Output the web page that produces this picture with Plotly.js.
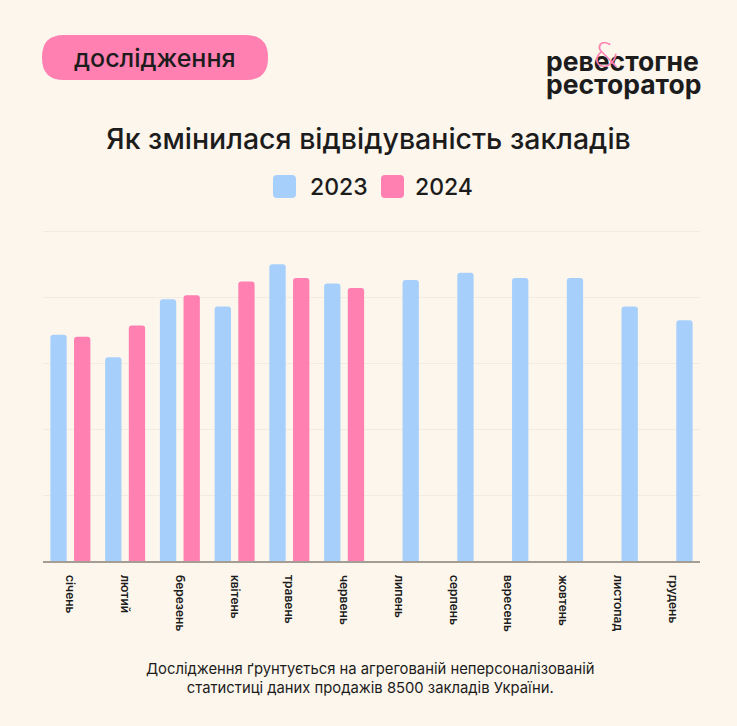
<!DOCTYPE html>
<html>
<head>
<meta charset="utf-8">
<script src="https://cdn.plot.ly/plotly-3.0.1.min.js"></script>
<style>
html,body{margin:0;padding:0;background:#fdf6ec;}
#chart{width:737px;height:726px;}
</style>
</head>
<body>
<div id="chart"></div>
<script>
// ---- data ----
const months = ['січень','лютий','березень','квітень','травень','червень','липень','серпень','вересень','жовтень','листопад','грудень'];
const series2023 = [3.43, 3.09, 3.97, 3.86, 4.50, 4.21, 4.26, 4.37, 4.29, 4.29, 3.86, 3.65];
const series2024 = [3.40, 3.57, 4.03, 4.24, 4.29, 4.14, null, null, null, null, null, null];
const seriesNames = ['2023', '2024'];
const titleText = 'Як змінилася відвідуваність закладів';
const badgeText = 'дослідження';
const logoLines = ['ревестогне', 'ресторатор'];
const footerLines = ['Дослідження ґрунтується на агрегованій неперсоналізованій', 'статистиці даних продажів 8500 закладів України.'];

// ---- style ----
const BLUE = '#a6d0fb', PINK = '#ff80b1', BG = '#fdf6ec', INK = '#1c1c1c';
const W = 737, H = 726;
const L = 43, R = 37, T = 228, B = 165;
const PW = W - L - R, PH = H - T - B;
const px = x => (x - L) / PW;
const py = y => (T + PH - y) / PH;

function roundRect(x0, y0, x1, y1, r) {
  const p = (x, y) => px(x) + ',' + py(y);
  return 'M' + p(x0 + r, y0) + ' L' + p(x1 - r, y0) + ' Q' + p(x1, y0) + ' ' + p(x1, y0 + r) +
    ' L' + p(x1, y1 - r) + ' Q' + p(x1, y1) + ' ' + p(x1 - r, y1) +
    ' L' + p(x0 + r, y1) + ' Q' + p(x0, y1) + ' ' + p(x0, y1 - r) +
    ' L' + p(x0, y0 + r) + ' Q' + p(x0, y0) + ' ' + p(x0 + r, y0) + ' Z';
}

const firstHalf = series2023.map((v, i) => series2024[i] !== null ? v : null);
const secondHalf = series2023.map((v, i) => series2024[i] === null ? v : null);

const traces = [
  {type: 'bar', name: seriesNames[0], x: months, y: firstHalf, offsetgroup: 'a', marker: {color: BLUE}, showlegend: false},
  {type: 'bar', name: seriesNames[0], x: months, y: secondHalf, offsetgroup: 'b', marker: {color: BLUE}, showlegend: false},
  {type: 'bar', name: seriesNames[1], x: months, y: series2024, offsetgroup: 'b', marker: {color: PINK}, showlegend: false}
];

const FONT = 'Inter, "Noto Sans", sans-serif';

const shapes = [
  {type: 'path', xref: 'paper', yref: 'paper', path: roundRect(42, 35, 268, 80, 22), fillcolor: PINK, line: {width: 0}, layer: 'below'},
  {type: 'path', xref: 'paper', yref: 'paper', path: roundRect(273, 175, 296, 198, 4), fillcolor: BLUE, line: {width: 0}},
  {type: 'path', xref: 'paper', yref: 'paper', path: roundRect(381, 175, 404, 198, 4), fillcolor: PINK, line: {width: 0}}
];

const annotations = [
  {xref: 'paper', yref: 'paper', x: px(155), y: py(58), text: badgeText, showarrow: false, xanchor: 'center', yanchor: 'middle',
    font: {family: FONT, size: 25, color: INK, weight: 500}},
  {xref: 'paper', yref: 'paper', x: px(544), y: py(61), text: logoLines[0], showarrow: false, xanchor: 'left', yanchor: 'middle',
    font: {family: FONT, size: 26.5, color: INK, weight: 700}},
  {xref: 'paper', yref: 'paper', x: px(544), y: py(84), text: logoLines[1], showarrow: false, xanchor: 'left', yanchor: 'middle',
    font: {family: FONT, size: 26.5, color: INK, weight: 700}},
  {xref: 'paper', yref: 'paper', x: px(606), y: py(55), text: '&', showarrow: false, xanchor: 'center', yanchor: 'middle',
    font: {family: '"DejaVu Sans", sans-serif', size: 34, color: PINK, weight: 200}},
  {xref: 'paper', yref: 'paper', x: px(308), y: py(187), text: seriesNames[0], showarrow: false, xanchor: 'left', yanchor: 'middle',
    font: {family: FONT, size: 23, color: INK, weight: 500}},
  {xref: 'paper', yref: 'paper', x: px(413), y: py(187), text: seriesNames[1], showarrow: false, xanchor: 'left', yanchor: 'middle',
    font: {family: FONT, size: 23, color: INK, weight: 500}},
  {xref: 'paper', yref: 'paper', x: px(370), y: py(678), text: footerLines.join('<br>'), showarrow: false, xanchor: 'center', yanchor: 'middle',
    align: 'center', font: {family: FONT, size: 14.8, color: INK}}
];

const layout = {
  width: W, height: H,
  paper_bgcolor: BG, plot_bgcolor: BG,
  margin: {l: L, r: R, t: T, b: B},
  title: {text: titleText, x: 0.5, xanchor: 'center', y: 1 - 139 / H, yanchor: 'middle', yref: 'container',
    font: {family: FONT, size: 28.5, color: INK, weight: 500}},
  barmode: 'group', bargap: 0.136, bargroupgap: 0.31, barcornerradius: 3,
  xaxis: {type: 'category', showgrid: false, showline: true, linecolor: '#a39d94', linewidth: 1.5,
    ticks: '', tickangle: 90, ticklabelstandoff: 10, tickfont: {family: FONT, size: 12, color: INK, weight: 600}, fixedrange: true},
  yaxis: {range: [0, 5.05], dtick: 1, showticklabels: false, showgrid: true, gridcolor: '#f1ebe1', gridwidth: 1,
    zeroline: false, ticks: '', fixedrange: true},
  showlegend: false, hovermode: false,
  shapes: shapes, annotations: annotations
};

Plotly.newPlot('chart', traces, layout, {staticPlot: true, displayModeBar: false});
</script>
</body>
</html>
